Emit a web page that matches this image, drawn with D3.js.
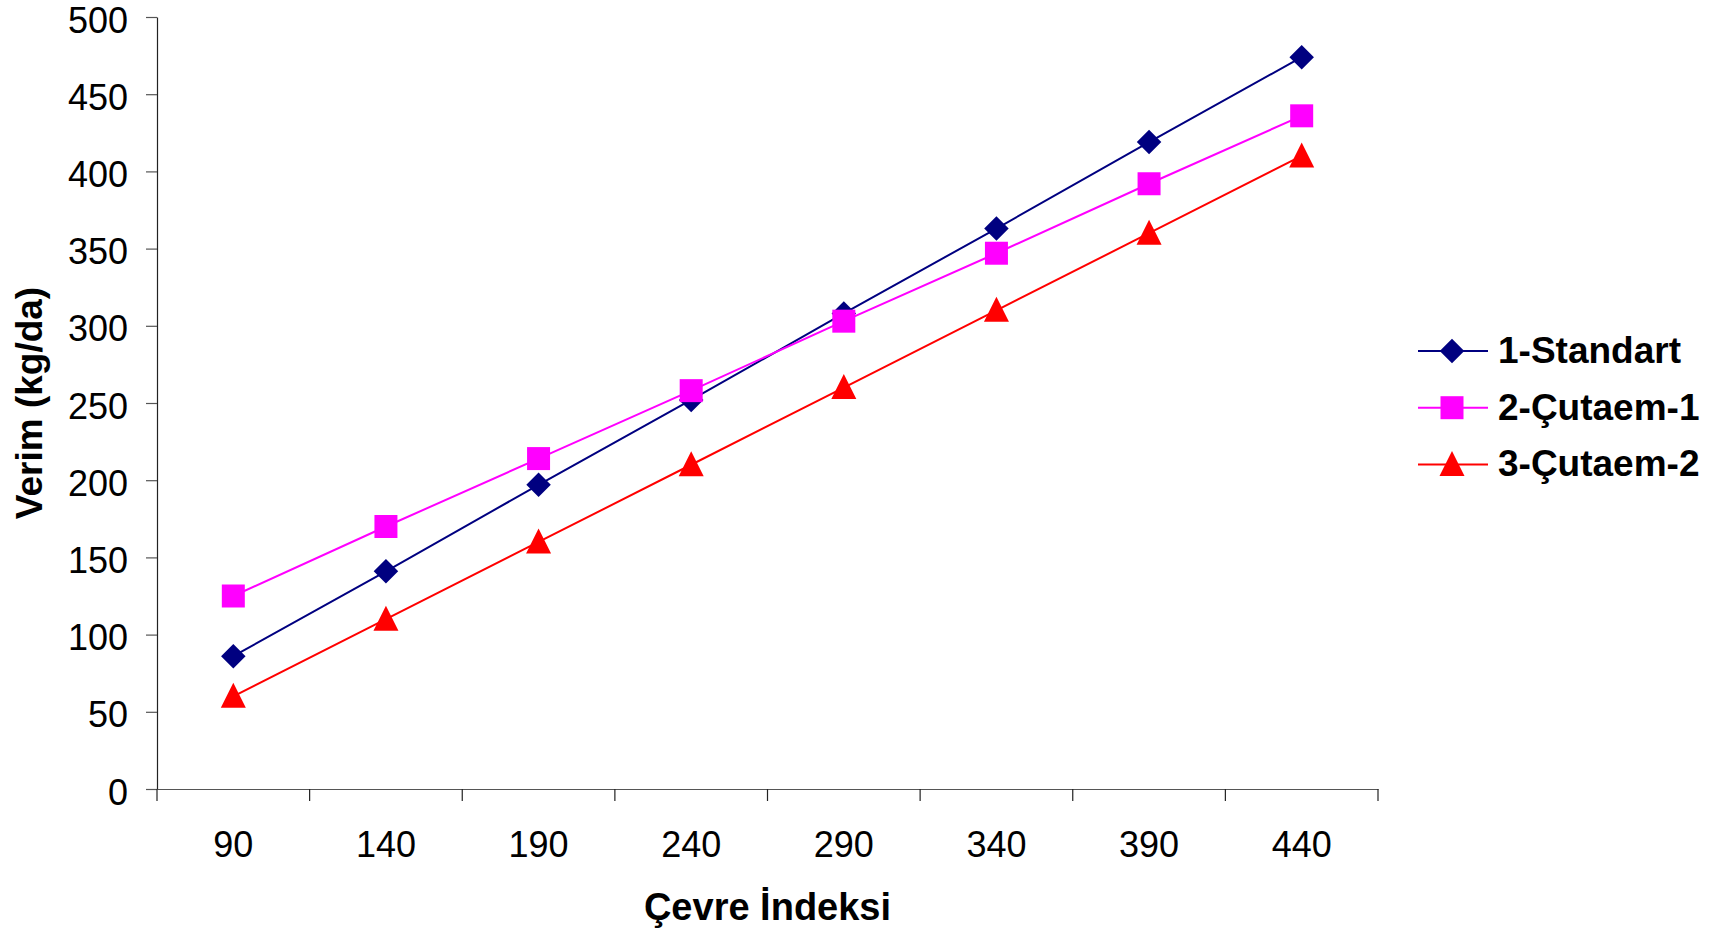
<!DOCTYPE html>
<html>
<head>
<meta charset="utf-8">
<script src="https://cdn.jsdelivr.net/npm/d3@7"></script>
<style>
  html, body { margin: 0; padding: 0; background: #fff; }
  svg { display: block; font-family: "Liberation Sans", Arial, sans-serif; }
</style>
</head>
<body>
<svg id="chart" width="1713" height="931"></svg>
<script>
// Environment index categories (x axis)
const categories = ["90", "140", "190", "240", "290", "340", "390", "440"];

// Yield (kg/da) per variety
const standart = [86, 141, 197, 252, 308, 363, 419, 474];
const cutaem1  = [125, 170, 214, 258, 303, 347, 392, 436];
const cutaem2  = [60, 110, 160, 210, 260, 310, 360, 410];

const seriesNames = ["1-Standart", "2-Çutaem-1", "3-Çutaem-2"];
const yTicks = [0, 50, 100, 150, 200, 250, 300, 350, 400, 450, 500];

const series = [
  { name: seriesNames[0], values: standart, color: "#000080", symbol: "diamond" },
  { name: seriesNames[1], values: cutaem1,  color: "#FF00FF", symbol: "square" },
  { name: seriesNames[2], values: cutaem2,  color: "#FF0000", symbol: "triangle" }
];

const svg = d3.select("#chart");
const plot = { left: 157, right: 1378, top: 17, bottom: 789 };

const x = d3.scaleBand().domain(categories).range([plot.left, plot.right]).padding(0);
const y = d3.scaleLinear().domain([0, 500]).range([plot.bottom, plot.top]);

const axisColor = "#222";

// Y axis
const yAxis = svg.append("g")
  .attr("transform", `translate(${plot.left},0)`)
  .call(d3.axisLeft(y).tickValues(yTicks).tickSize(11).tickPadding(18).tickSizeOuter(0));
yAxis.select(".domain").attr("stroke", axisColor).attr("stroke-width", 1.2);
yAxis.selectAll(".tick line").attr("stroke", "#555").attr("stroke-width", 1.2);
yAxis.selectAll(".tick text")
  .attr("font-size", 36).attr("fill", "#000").attr("dy", "0.42em")
  .style("font-family", "'Liberation Sans', Arial, sans-serif");

// X axis: labels at category centres, tick marks at category boundaries
const xAxis = svg.append("g")
  .attr("transform", `translate(0,${plot.bottom})`)
  .call(d3.axisBottom(x).tickSizeInner(0).tickSizeOuter(0).tickPadding(42));
xAxis.select(".domain").attr("stroke", "#555").attr("stroke-width", 1.2);
xAxis.selectAll(".tick text")
  .attr("font-size", 36).attr("fill", "#000")
  .style("font-family", "'Liberation Sans', Arial, sans-serif");

const boundaries = categories.map(c => x(c)).concat([x.range()[1]]);
xAxis.selectAll("line.boundary")
  .data(boundaries)
  .enter().append("line")
  .attr("class", "boundary")
  .attr("x1", d => d).attr("x2", d => d)
  .attr("y1", 0).attr("y2", 12)
  .attr("stroke", axisColor).attr("stroke-width", 1.2);

// Marker shapes
const symbolSize = { diamond: 300, square: 529, triangle: 300 };
function markerPath(sym) {
  if (sym === "diamond") return d3.symbol().type(d3.symbolSquare).size(symbolSize.diamond)();
  if (sym === "square") return d3.symbol().type(d3.symbolSquare).size(symbolSize.square)();
  return "M0,-13.5L12.5,11.5L-12.5,11.5Z";
}
function markerTransform(sym, cx, cy) {
  if (sym === "diamond") return `translate(${cx},${cy}) rotate(45)`;
  return `translate(${cx},${cy})`;
}

const line = d3.line()
  .x((d, i) => x(categories[i]) + x.bandwidth() / 2)
  .y(d => y(d));

// Series lines and markers
series.forEach(s => {
  const g = svg.append("g");
  g.append("path")
    .datum(s.values)
    .attr("d", line)
    .attr("fill", "none")
    .attr("stroke", s.color)
    .attr("stroke-width", 2);
  g.selectAll("path.marker")
    .data(s.values)
    .enter().append("path")
    .attr("class", "marker")
    .attr("d", markerPath(s.symbol))
    .attr("transform", (d, i) => markerTransform(s.symbol, x(categories[i]) + x.bandwidth() / 2, y(d)))
    .attr("fill", s.color);
});

// Axis titles
svg.append("text")
  .attr("transform", `translate(42,${(plot.top + plot.bottom) / 2}) rotate(-90)`)
  .attr("text-anchor", "middle")
  .attr("font-size", 37).attr("font-weight", "bold")
  .text("Verim (kg/da)");

svg.append("text")
  .attr("x", (plot.left + plot.right) / 2)
  .attr("y", 920)
  .attr("text-anchor", "middle")
  .attr("font-size", 38).attr("font-weight", "bold")
  .text("Çevre İndeksi");

// Legend
const legend = svg.append("g").attr("transform", "translate(1418,351)");
const rows = legend.selectAll("g.row")
  .data(series)
  .enter().append("g")
  .attr("class", "row")
  .attr("transform", (d, i) => `translate(0,${i * 56.7})`);
rows.append("line")
  .attr("x1", 0).attr("x2", 70).attr("y1", 0).attr("y2", 0)
  .attr("stroke", d => d.color).attr("stroke-width", 2);
rows.append("path")
  .attr("d", d => markerPath(d.symbol))
  .attr("transform", d => markerTransform(d.symbol, 34, 0))
  .attr("fill", d => d.color);
rows.append("text")
  .attr("x", 80).attr("y", 12)
  .attr("font-size", 37).attr("font-weight", "bold")
  .text(d => d.name);
</script>
</body>
</html>
